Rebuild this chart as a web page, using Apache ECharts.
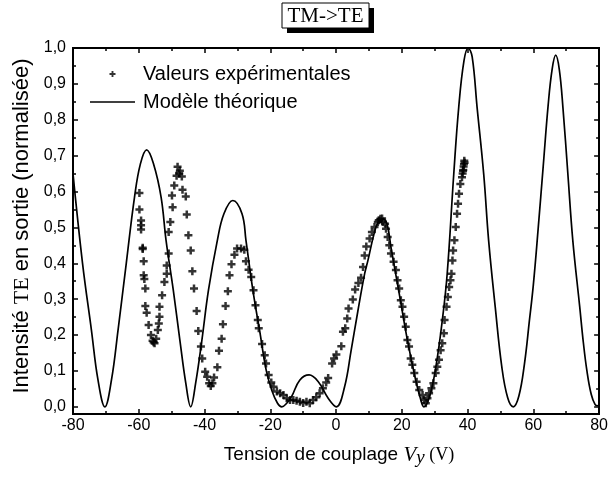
<!DOCTYPE html>
<html>
<head>
<meta charset="utf-8">
<script src="https://cdn.jsdelivr.net/npm/echarts@6/dist/echarts.min.js"></script>
<style>html,body{margin:0;padding:0;background:#fff}#c{width:611px;height:477px}</style>
</head>
<body>
<div id="c"></div>
<script>
// Experimental points: coupling voltage (V) and normalised TE intensity
const expV = [-59.8,-59.8,-59.3,-59.3,-59.3,-58.8,-58.8,-58.5,-58.5,-58.3,-58.0,-58.0,-57.6,-57.0,-56.3,-55.8,-55.2,-55.5,-54.7,-54.2,-53.9,-53.7,-53.7,-52.9,-52.2,-51.5,-51.5,-50.9,-50.9,-50.4,-49.7,-49.9,-49.2,-48.5,-48.2,-47.7,-47.5,-46.9,-46.7,-45.7,-45.4,-44.9,-44.2,-43.7,-43.2,-42.4,-41.9,-41.1,-40.7,-39.8,-39.2,-38.6,-38.1,-37.6,-37.1,-36.1,-35.6,-34.8,-34.4,-33.6,-32.9,-32.4,-31.8,-30.9,-30.1,-28.9,-27.9,-27.4,-26.6,-25.8,-25.1,-24.5,-23.8,-23.5,-22.5,-21.7,-21.3,-20.5,-19.7,-19.0,-18.0,-17.0,-16.0,-15.0,-14.0,-13.0,-12.0,-11.0,-10.0,-9.0,-8.0,-7.0,-6.0,-5.0,-4.0,-3.0,-2.4,-1.2,-0.6,0.1,1.6,2.1,2.8,3.4,3.8,5.1,5.8,6.8,7.6,8.2,8.7,9.2,10.2,10.9,11.7,12.7,13.0,13.5,14.0,14.2,14.9,15.2,15.7,16.2,16.7,17.5,18.2,18.7,19.2,19.7,20.2,20.7,21.2,21.7,22.2,22.7,23.2,23.8,24.5,25.3,26.3,26.8,27.3,27.8,28.3,29.0,29.6,30.3,30.8,31.3,31.8,32.3,32.8,33.0,33.6,34.0,34.4,34.8,35.1,35.4,35.6,36.0,36.4,36.8,37.1,37.4,37.8,38.3,38.5,38.6,38.7,38.8,38.9,39.0,39.1];
const expI = [0.596,0.55,0.519,0.506,0.494,0.443,0.44,0.406,0.367,0.356,0.33,0.281,0.262,0.228,0.2,0.184,0.177,0.18,0.19,0.214,0.232,0.251,0.279,0.311,0.348,0.371,0.394,0.427,0.487,0.515,0.556,0.589,0.617,0.644,0.669,0.65,0.658,0.642,0.605,0.586,0.536,0.478,0.436,0.378,0.33,0.267,0.211,0.168,0.135,0.098,0.084,0.066,0.058,0.066,0.082,0.11,0.156,0.19,0.23,0.281,0.322,0.367,0.397,0.424,0.441,0.441,0.438,0.406,0.382,0.362,0.325,0.283,0.242,0.219,0.175,0.144,0.121,0.089,0.068,0.056,0.043,0.038,0.033,0.024,0.019,0.019,0.017,0.014,0.011,0.014,0.01,0.019,0.027,0.038,0.052,0.068,0.08,0.121,0.135,0.146,0.169,0.209,0.219,0.246,0.274,0.299,0.327,0.345,0.36,0.39,0.422,0.447,0.469,0.487,0.501,0.515,0.52,0.524,0.525,0.515,0.51,0.496,0.473,0.45,0.427,0.404,0.381,0.353,0.33,0.297,0.279,0.251,0.223,0.186,0.168,0.135,0.117,0.094,0.07,0.047,0.033,0.019,0.01,0.024,0.038,0.052,0.066,0.094,0.112,0.131,0.158,0.177,0.205,0.242,0.279,0.306,0.334,0.353,0.371,0.408,0.436,0.464,0.501,0.538,0.566,0.594,0.621,0.64,0.65,0.658,0.66,0.67,0.677,0.686,0.68];

// Theoretical model curve
const modelV = [-80,-77.1,-74.4,-72.4,-70.3,-68.3,-66.3,-63.8,-61.3,-59.5,-57.6,-55.5,-53.2,-51.7,-49.5,-47.5,-45.7,-44.2,-42.7,-40.8,-38.8,-36.1,-34.1,-31.4,-28.6,-27.4,-25.3,-23.2,-21.2,-19.5,-17.8,-16.5,-15.0,-13.5,-11.0,-8.2,-5.4,-2.4,0.1,2.6,4.6,6.6,8.7,9.7,11.5,12.8,14.2,15.5,16.7,19.2,21.7,24.2,25.6,26.7,28.5,30.5,32.3,33.8,35.8,37.3,38.9,40.2,41.4,42.9,44.9,46.4,48.4,50.4,52.2,53.9,55.6,57.3,58.8,60.0,61.5,63.0,64.5,65.7,66.8,67.9,69.0,70.5,72.0,74.1,75.2,76.3,77.6,78.8,79.6,80];
const modelI = [0.65,0.40,0.214,0.075,0.0,0.075,0.214,0.40,0.584,0.677,0.716,0.677,0.584,0.464,0.325,0.186,0.066,0.0,0.066,0.186,0.325,0.464,0.538,0.575,0.538,0.464,0.325,0.21,0.10,0.045,0.01,0.0,0.01,0.029,0.075,0.089,0.07,0.024,0.0,0.056,0.158,0.265,0.371,0.408,0.48,0.515,0.524,0.51,0.445,0.316,0.186,0.075,0.025,0.0,0.03,0.12,0.24,0.371,0.649,0.834,0.964,1.0,0.975,0.834,0.649,0.464,0.279,0.112,0.025,0.0,0.03,0.12,0.24,0.34,0.50,0.67,0.84,0.94,0.98,0.94,0.834,0.649,0.464,0.279,0.18,0.10,0.035,0.006,0.003,0.01];

const xTicks = [-80,-60,-40,-20,0,20,40,60,80];
const yTicks = [0,0.1,0.2,0.3,0.4,0.5,0.6,0.7,0.8,0.9,1.0];
const yMinor = [0.05,0.15,0.25,0.35,0.45,0.55,0.65,0.75,0.85,0.95];

const plus = 'path://M2.75,0H5.25V2.75H8V5.25H5.25V8H2.75V5.25H0V2.75H2.75Z';
const lineIcon = 'path://M0,0H45V1.6H0Z';
const SANS = 'Liberation Sans, Arial, sans-serif';
const SERIF = 'Liberation Serif, Times New Roman, serif';

const chart = echarts.init(document.getElementById('c'), null, {renderer: 'canvas'});
const axLine = {show: true, onZero: false, lineStyle: {color: '#000', width: 2}};
function yAx(pos, vals, len, labels) {
  return {
    type: 'value', position: pos, min: -0.02, max: 1.0,
    splitLine: {show: false},
    axisLine: axLine,
    axisTick: {show: true, inside: true, length: len, customValues: vals, lineStyle: {color: '#000', width: 1.5}},
    axisLabel: labels ? {show: true, customValues: vals, margin: 7, color: '#000', fontSize: 16, fontFamily: SANS,
      formatter: v => v.toFixed(1).replace('.', ',')} : {show: false}
  };
}
function xAx(pos, labels) {
  return {
    type: 'value', position: pos, min: -80, max: 80, interval: 20,
    splitLine: {show: false},
    axisLine: axLine,
    axisTick: {show: true, inside: true, length: 5, lineStyle: {color: '#000', width: 1.5}},
    minorTick: {show: true, splitNumber: 2, length: 3, lineStyle: {color: '#000', width: 1.5}},
    axisLabel: labels ? {show: true, margin: 4, color: '#000', fontSize: 16, fontFamily: SANS} : {show: false}
  };
}

chart.setOption({
  animation: false,
  backgroundColor: '#fff',
  grid: {left: 73, right: 8, top: 48, bottom: 63},
  xAxis: [xAx('bottom', true), xAx('top', false)],
  yAxis: [yAx('left', yTicks, 5, true), yAx('left', yMinor, 3, false), yAx('right', yTicks, 5, false), yAx('right', yMinor, 3, false)],
  legend: {
    orient: 'vertical', left: 85, top: 59, itemWidth: 45, itemHeight: 6, itemGap: 8,
    textStyle: {fontSize: 20, lineHeight: 20, fontFamily: SANS, color: '#000', padding: [0, 0, 0, 3]},
    data: [{name: 'Valeurs expérimentales', icon: plus}, {name: 'Modèle théorique', icon: lineIcon}]
  },
  series: [
    {
      name: 'Valeurs expérimentales', type: 'scatter', symbol: plus, symbolSize: 8,
      itemStyle: {color: '#000'}, z: 3,
      data: expV.map((v, i) => [v, expI[i]])
    },
    {
      name: 'Modèle théorique', type: 'line', smooth: 0.4, symbol: 'none', showSymbol: false,
      lineStyle: {color: '#000', width: 1.7}, itemStyle: {color: '#000'}, z: 2,
      data: modelV.map((v, i) => [v, modelI[i]])
    }
  ],
  graphic: [
    {type: 'rect', shape: {x: 287, y: 8, width: 87, height: 25}, style: {fill: '#000'}},
    {type: 'rect', shape: {x: 282, y: 3, width: 87, height: 25}, style: {fill: '#fff', stroke: '#000', lineWidth: 1}},
    {type: 'text', x: 325.5, y: 16, style: {text: 'TM->TE', font: '21px ' + SERIF, fill: '#000', align: 'center', verticalAlign: 'middle'}},
    {type: 'text', x: 22, y: 226, rotation: Math.PI / 2,
      style: {text: '{a|Intensité }{b|TE}{a| en sortie (normalisée)}', align: 'center', verticalAlign: 'middle',
        rich: {a: {fontSize: 22, fontFamily: SANS, fill: '#000'}, b: {fontSize: 22, fontFamily: SERIF, fill: '#000'}}}},
    {type: 'text', x: 339, y: 455,
      style: {text: '{a|Tension de couplage }{v|V}{s|y}{b| (V)}', align: 'center', verticalAlign: 'middle',
        rich: {a: {fontSize: 19, fontFamily: SANS, fill: '#000'},
               v: {fontSize: 21, fontFamily: SERIF, fontStyle: 'italic', fill: '#000'},
               s: {fontSize: 19, fontFamily: SERIF, fontStyle: 'italic', fill: '#000', padding: [6, 0, 0, 0]},
               b: {fontSize: 18, fontFamily: SERIF, fill: '#000'}}}}
  ]
});
</script>
</body>
</html>
